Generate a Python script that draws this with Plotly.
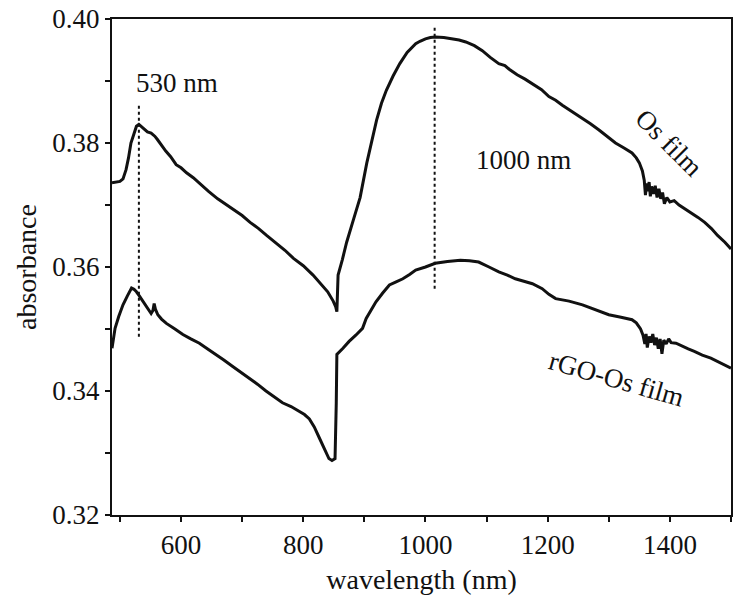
import plotly.graph_objects as go

# Os film spectrum (wavelength nm, absorbance)
os_wl = [487, 500, 505, 510, 514, 518, 523, 527, 531, 535, 538, 545, 551, 557, 561, 565, 575, 583, 592, 600, 609,
         620, 631, 645, 660, 672, 686, 700, 713, 727, 740, 755, 770, 784, 800, 816, 830, 840, 849, 853, 855,
         856, 857, 864, 871, 882, 893, 904, 912, 920, 928, 936, 947, 958, 970, 984, 991, 1000, 1008, 1016, 1030,
         1044, 1055, 1066, 1080, 1093, 1106, 1120, 1130, 1137, 1150, 1163, 1175, 1190, 1202, 1213, 1224, 1240, 1257,
         1270, 1284, 1297, 1311, 1325, 1338, 1345, 1350, 1355, 1358, 1360, 1362, 1364, 1366, 1368, 1370, 1373,
         1376, 1379, 1382, 1385, 1388, 1391, 1395, 1400, 1407, 1415, 1425, 1435, 1446, 1457, 1468, 1478, 1490, 1500]
os_abs = [0.3736, 0.3738, 0.3742, 0.3757, 0.3776, 0.3800, 0.3815, 0.3827, 0.3830, 0.3827, 0.3824, 0.3818, 0.3816,
          0.3811, 0.3806, 0.3800, 0.3787, 0.3778, 0.3765, 0.3760, 0.3752, 0.3744, 0.3734, 0.3722, 0.3710, 0.3702,
          0.3693, 0.3683, 0.3672, 0.3662, 0.3651, 0.3639, 0.3627, 0.3614, 0.3602, 0.3587, 0.3572, 0.3560, 0.3545,
          0.3536, 0.3528, 0.3560, 0.3587, 0.3612, 0.3640, 0.3676, 0.3712, 0.3768, 0.3805, 0.3837, 0.3864, 0.3885,
          0.3908, 0.3928, 0.3946, 0.3960, 0.3964, 0.3968, 0.3970, 0.3971, 0.3970, 0.3968, 0.3966, 0.3963, 0.3957,
          0.3949, 0.3938, 0.3928, 0.3925, 0.3919, 0.3910, 0.3903, 0.3896, 0.3886, 0.3875, 0.3869, 0.3861, 0.3851,
          0.3840, 0.3831, 0.3821, 0.3811, 0.3800, 0.3792, 0.3784, 0.3776, 0.3768, 0.3755, 0.3740, 0.3716, 0.3735,
          0.3722, 0.3737, 0.3714, 0.3730, 0.3718, 0.3731, 0.3712, 0.3726, 0.3710, 0.3720, 0.3702, 0.3712, 0.3705,
          0.3707, 0.3700, 0.3694, 0.3688, 0.3680, 0.3672, 0.3662, 0.3651, 0.3640, 0.3629]

# rGO-Os film spectrum
rgo_wl = [487, 492, 498, 505, 512, 519, 523, 527, 532, 538, 545, 551, 554, 556, 558, 562, 568, 576, 590, 603, 616,
          630, 643, 657, 670, 684, 697, 711, 725, 739, 752, 766, 780, 793, 802, 810, 818, 826, 834, 842, 847, 852,
          854, 855, 865, 875, 886, 897, 903, 911, 919, 930, 941, 952, 963, 974, 984, 1000, 1016, 1036, 1057, 1072,
          1087, 1104, 1120, 1134, 1147, 1161, 1175, 1191, 1202, 1213, 1235, 1257, 1278, 1300, 1320, 1338, 1345,
          1352, 1356, 1359, 1361, 1363, 1366, 1369, 1372, 1375, 1378, 1381, 1384, 1387, 1390, 1394, 1398, 1402,
          1410, 1420, 1430, 1440, 1453, 1467, 1483, 1500]
rgo_abs = [0.3469, 0.3501, 0.3520, 0.3539, 0.3553, 0.3566, 0.3564, 0.3560, 0.3553, 0.3544, 0.3535, 0.3525, 0.3530,
           0.3541, 0.3532, 0.3523, 0.3516, 0.3509, 0.3500, 0.3491, 0.3484, 0.3477, 0.3468, 0.3459, 0.3450, 0.3440,
           0.3431, 0.3421, 0.3411, 0.3400, 0.3391, 0.3381, 0.3375, 0.3368, 0.3362, 0.3355, 0.3342, 0.3325, 0.3308,
           0.3291, 0.3288, 0.3291, 0.3380, 0.3459, 0.3469, 0.3480, 0.3490, 0.3501, 0.3517, 0.3531, 0.3544, 0.3558,
           0.3571, 0.3576, 0.3581, 0.3588, 0.3595, 0.3600, 0.3606, 0.3609, 0.3611, 0.3610, 0.3608, 0.3600, 0.3592,
           0.3587, 0.3581, 0.3577, 0.3573, 0.3565, 0.3556, 0.3549, 0.3545, 0.3539, 0.3531, 0.3523, 0.3519, 0.3515,
           0.3510, 0.3500, 0.3490, 0.3476, 0.3492, 0.3470, 0.3488, 0.3478, 0.3492, 0.3474, 0.3486, 0.3468, 0.3484,
           0.3460, 0.3482, 0.3476, 0.3484, 0.3478, 0.3477, 0.3472, 0.3468, 0.3464, 0.3458, 0.3453, 0.3445, 0.3437]

# Peak marker lines (wavelength, y-extent)
peak1_wl = [531, 531]
peak1_y = [0.3860, 0.3487]
peak2_wl = [1015, 1015]
peak2_y = [0.3986, 0.3563]

black = "#111111"
font_family = "Liberation Serif, Times New Roman, serif"

fig = go.Figure()
fig.add_trace(go.Scatter(x=os_wl, y=os_abs, mode="lines", line=dict(color=black, width=3), showlegend=False))
fig.add_trace(go.Scatter(x=rgo_wl, y=rgo_abs, mode="lines", line=dict(color=black, width=3), showlegend=False))
fig.add_trace(go.Scatter(x=peak1_wl, y=peak1_y, mode="lines", line=dict(color=black, width=2, dash="dot"), showlegend=False))
fig.add_trace(go.Scatter(x=peak2_wl, y=peak2_y, mode="lines", line=dict(color=black, width=2, dash="dot"), showlegend=False))

annots = [
    dict(x=523, y=0.3896, text="530 nm", xanchor="left", yanchor="middle", textangle=0),
    dict(x=1080, y=0.3773, text="1000 nm", xanchor="left", yanchor="middle", textangle=0),
    dict(x=1399, y=0.3800, text="Os film", xanchor="center", yanchor="middle", textangle=45),
    dict(x=1312, y=0.3419, text="rGO-Os film", xanchor="center", yanchor="middle", textangle=16),
]
for a in annots:
    fig.add_annotation(x=a["x"], y=a["y"], text=a["text"], showarrow=False, xanchor=a["xanchor"],
                       yanchor=a["yanchor"], textangle=a["textangle"],
                       font=dict(family=font_family, size=27, color=black))

fig.update_layout(
    width=737, height=606,
    margin=dict(l=112, r=4, t=15, b=91),
    plot_bgcolor="white", paper_bgcolor="white",
    font=dict(family=font_family, size=27, color=black),
)
fig.update_xaxes(
    range=[487, 1500], tick0=0, dtick=200, showgrid=False, zeroline=False,
    showline=True, linecolor=black, linewidth=2, mirror=True, ticklabeloverflow="allow",
    ticks="outside", ticklen=5, tickwidth=2, tickcolor=black,
    minor=dict(dtick=100, tick0=0, ticks="outside", ticklen=5, tickwidth=2, tickcolor=black, showgrid=False),
    title=dict(text="wavelength (nm)", font=dict(family=font_family, size=28, color=black), standoff=10),
)
fig.update_yaxes(
    range=[0.32, 0.40], tick0=0, dtick=0.02, tickformat=".2f", showgrid=False, zeroline=False,
    showline=True, linecolor=black, linewidth=2, mirror=True, ticklabeloverflow="allow",
    ticks="outside", ticklen=5, tickwidth=2, tickcolor=black,
    minor=dict(dtick=0.01, ticks="outside", ticklen=5, tickwidth=2, tickcolor=black, showgrid=False),
    title=dict(text="absorbance", font=dict(family=font_family, size=28, color=black), standoff=8),
)

fig.write_html("out.html", config={"displayModeBar": False},
               post_script="document.body.style.margin='0px';document.body.style.overflow='hidden';")
